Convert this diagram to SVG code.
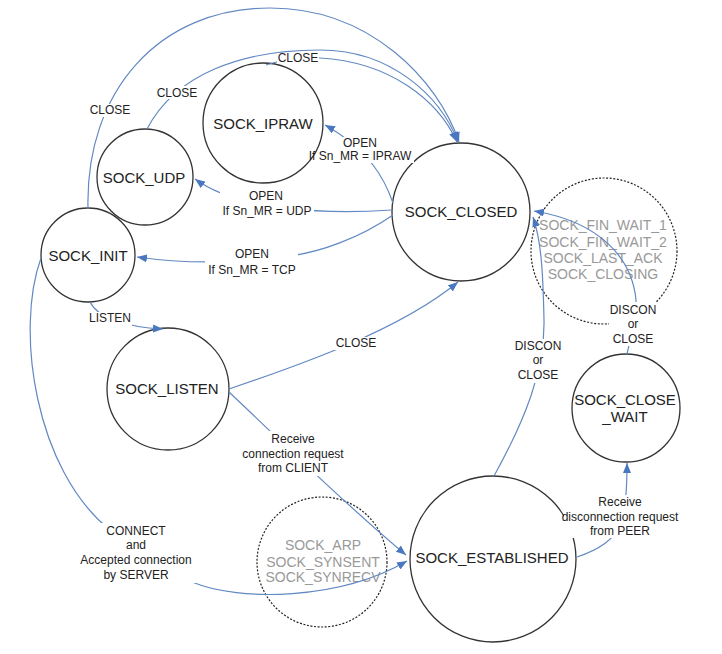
<svg xmlns="http://www.w3.org/2000/svg" width="722" height="654" viewBox="0 0 722 654">
<style>
.n{fill:none;stroke:#333;stroke-width:1.3}
.d{fill:none;stroke:#222;stroke-width:1.2;stroke-dasharray:2 1.6}
.t{font-family:"Liberation Sans",Arial,sans-serif;font-size:15px;fill:#222;text-anchor:middle}
.g{font-family:"Liberation Sans",Arial,sans-serif;font-size:14px;fill:#999;text-anchor:middle}
.l{font-family:"Liberation Sans",Arial,sans-serif;font-size:12px;fill:#222;text-anchor:middle}
.c{fill:none;stroke:#6289c2;stroke-width:1.2;marker-end:url(#ah)}
.bg{fill:#fff}
</style>
<defs>
<marker id="ah" markerUnits="userSpaceOnUse" markerWidth="11" markerHeight="8" refX="10" refY="4" orient="auto">
<path d="M0,0 L10,4 L0,8 z" fill="#4a78c0"/>
</marker>
</defs>
<g id="SOCK_CLOSED"><circle class="n" cx="461" cy="212" r="69"/><text class="t" x="461" y="217">SOCK_CLOSED</text></g>
<g id="SOCK_IPRAW"><circle class="n" cx="263" cy="123" r="60"/><text class="t" x="263" y="129">SOCK_IPRAW</text></g>
<g id="SOCK_UDP"><circle class="n" cx="145" cy="177" r="48"/><text class="t" x="144" y="183">SOCK_UDP</text></g>
<g id="SOCK_INIT"><circle class="n" cx="88" cy="255" r="47"/><text class="t" x="88" y="261">SOCK_INIT</text></g>
<g id="SOCK_LISTEN"><circle class="n" cx="168" cy="389" r="61"/><text class="t" x="167" y="394">SOCK_LISTEN</text></g>
<g id="SOCK_ESTABLISHED"><circle class="n" cx="493" cy="559" r="83"/><text class="t" x="492" y="563">SOCK_ESTABLISHED</text></g>
<g id="SOCK_CLOSE_WAIT"><circle class="n" cx="626" cy="408" r="54"/><text class="t" x="625" y="405">SOCK_CLOSE</text><text class="t" x="625" y="422">_WAIT</text></g>
<g id="SOCK_CLOSING_GROUP"><circle class="d" cx="604" cy="251" r="73"/>
<text class="g" x="603" y="230">SOCK_FIN_WAIT_1</text>
<text class="g" x="603" y="247">SOCK_FIN_WAIT_2</text>
<text class="g" x="603" y="263">SOCK_LAST_ACK</text>
<text class="g" x="603" y="279">SOCK_CLOSING</text></g>
<g id="SOCK_CONNECTING_GROUP"><circle class="d" cx="322" cy="562" r="65"/>
<text class="g" x="323" y="550">SOCK_ARP</text>
<text class="g" x="323" y="567">SOCK_SYNSENT</text>
<text class="g" x="323" y="582">SOCK_SYNRECV</text></g>
<g id="connectors">
<path class="c" d="M88,209 C85,90 160,8 270,8 C370,8 438,80 459,142"/>
<path class="c" d="M147,129 C175,75 240,50 320,50 C390,50 440,95 458,142"/>
<path class="c" d="M266,65 C285,58 300,57 320,58 C390,62 438,100 457,142"/>
<path class="c" d="M393,203 C385,180 370,150 325,125"/>
<path class="c" d="M392,210 C330,214 240,212 195,179"/>
<path class="c" d="M393,215 C360,238 320,252 290,256 C250,261 200,266 137,257"/>
<path class="c" d="M90,302 C98,318 125,327 163,329"/>
<path class="c" d="M229,389 C300,365 400,330 458,282"/>
<path class="c" d="M229,392 C280,440 340,500 406,555"/>
<path class="c" d="M41,258 C15,330 35,470 110,530 L192,582 C240,602 340,600 407,561"/>
<path class="c" d="M494,476 C525,420 545,370 544,320 C543,270 541,240 533,217"/>
<path class="c" d="M627,354 C630,340 636,320 636,300 C632,258 600,222 534,211"/>
<path class="c" d="M577,557 C598,550 614,540 620,525 C626,505 627,490 627,463"/>
<g id="labels">
<rect class="bg" x="89" y="104" width="42" height="13"/>
<text class="l" x="110" y="114">CLOSE</text>
<rect class="bg" x="156" y="86" width="42" height="13"/>
<text class="l" x="177" y="97">CLOSE</text>
<rect class="bg" x="277" y="53" width="42" height="11"/>
<text class="l" x="298" y="62">CLOSE</text>
<rect class="bg" x="322" y="137" width="92" height="26"/>
<text class="l" x="360" y="147">OPEN</text>
<text class="l" x="360" y="160">If Sn_MR = IPRAW</text>
<rect class="bg" x="220" y="189" width="94" height="29"/>
<text class="l" x="266" y="200">OPEN</text>
<text class="l" x="267" y="215">If Sn_MR = UDP</text>
<rect class="bg" x="205" y="247" width="93" height="30"/>
<text class="l" x="252" y="258">OPEN</text>
<text class="l" x="252" y="274">If Sn_MR = TCP</text>
<rect class="bg" x="88" y="312" width="44" height="14"/>
<text class="l" x="110" y="322">LISTEN</text>
<rect class="bg" x="334" y="337" width="44" height="13"/>
<text class="l" x="356" y="347">CLOSE</text>
<rect class="bg" x="240" y="431" width="106" height="45"/>
<text class="l" x="293" y="443">Receive</text>
<text class="l" x="293" y="458">connection request</text>
<text class="l" x="293" y="472">from CLIENT</text>
<rect class="bg" x="76" y="523" width="121" height="60"/>
<text class="l" x="136" y="535">CONNECT</text>
<text class="l" x="136" y="549">and</text>
<text class="l" x="136" y="564">Accepted connection</text>
<text class="l" x="136" y="579">by SERVER</text>
<rect class="bg" x="513" y="339" width="50" height="44"/>
<text class="l" x="538" y="350">DISCON</text>
<text class="l" x="538" y="364">or</text>
<text class="l" x="538" y="379">CLOSE</text>
<rect class="bg" x="609" y="302" width="48" height="44"/>
<text class="l" x="633" y="314">DISCON</text>
<text class="l" x="633" y="328">or</text>
<text class="l" x="633" y="343">CLOSE</text>
<rect class="bg" x="564" y="495" width="112" height="43"/>
<text class="l" x="620" y="506">Receive</text>
<text class="l" x="620" y="521">disconnection request</text>
<text class="l" x="620" y="535">from PEER</text>
</g>
</g>
</svg>
